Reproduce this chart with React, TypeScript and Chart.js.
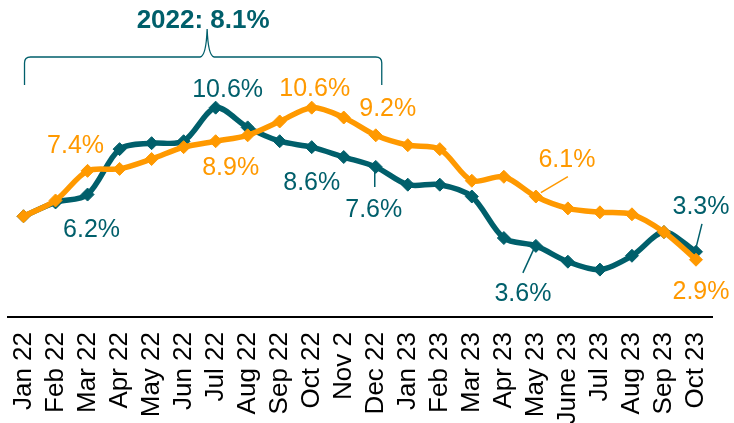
import React, { useEffect, useRef } from "react";
import { Chart, registerables } from "chart.js";

Chart.register(...registerables);

const categories = [
  "Jan 22", "Feb 22", "Mar 22", "Apr 22", "May 22", "Jun 22", "Jul 22", "Aug 22",
  "Sep 22", "Oct 22", "Nov 2", "Dec 22", "Jan 23", "Feb 23", "Mar 23", "Apr 23",
  "May 23", "June 23", "Jul 23", "Aug 23", "Sep 23", "Oct 23",
];

const tealValues = [5.1, 5.8, 6.2, 8.5, 8.8, 8.9, 10.6, 9.6, 8.9, 8.6, 8.1, 7.6, 6.7, 6.7, 6.1, 4.0, 3.6, 2.8, 2.4, 3.1, 4.3, 3.3];
const orangeValues = [5.1, 5.9, 7.4, 7.5, 8.0, 8.6, 8.9, 9.2, 9.9, 10.6, 10.1, 9.2, 8.7, 8.5, 6.9, 7.1, 6.1, 5.5, 5.3, 5.2, 4.3, 2.9];

const tealLabelIdx = [2, 6, 9, 11, 16, 21];
const orangeLabelIdx = [2, 6, 9, 11, 16, 21];

const bracketText = "2022: 8.1%";
const bracketStart = 0;
const bracketEnd = 11;

const TEAL = "#005f6b";
const ORANGE = "#ff9900";
const FONT = '"Liberation Sans", Arial, sans-serif';

// styling: label offsets (dx, dy to text centre) and optional leader lines
type LabelStyle = { dx: number; dy: number; leader?: [number, number, number, number] };
const tealLabelStyle: LabelStyle[] = [
  { dx: 4, dy: 33 },
  { dx: 12, dy: -20 },
  { dx: 0, dy: 34 },
  { dx: -2, dy: 41, leader: [-1, 3, -1, 20] },
  { dx: -13, dy: 46, leader: [-13, 27, -2, 3] },
  { dx: 5, dy: -47, leader: [6, -28, 0, -4] },
];
const orangeLabelStyle: LabelStyle[] = [
  { dx: -12, dy: -27 },
  { dx: 15, dy: 25 },
  { dx: 3, dy: -21 },
  { dx: 12, dy: -28 },
  { dx: 31, dy: -38, leader: [32, -20, 5, -4] },
  { dx: 5, dy: 30 },
];

const labelPlugin = {
  id: "customLabels",
  afterDatasetsDraw(chart: any) {
    const ctx = chart.ctx as CanvasRenderingContext2D;
    const xs = chart.scales.x;
    const ys = chart.scales.y;
    ctx.save();
    const size = 25;
    ctx.font = `${size}px ${FONT}`;
    ctx.textAlign = "center";
    ctx.textBaseline = "alphabetic";
    const drawSet = (vals: number[], idx: number[], styles: LabelStyle[], color: string) => {
      idx.forEach((i, k) => {
        const st = styles[k];
        const px = xs.getPixelForValue(i);
        const py = ys.getPixelForValue(vals[i]);
        ctx.fillStyle = color;
        ctx.fillText(vals[i].toFixed(1) + "%", px + st.dx, py + st.dy + size * 0.358);
        if (st.leader) {
          ctx.strokeStyle = color;
          ctx.lineWidth = 1.5;
          ctx.beginPath();
          ctx.moveTo(px + st.leader[0], py + st.leader[1]);
          ctx.lineTo(px + st.leader[2], py + st.leader[3]);
          ctx.stroke();
        }
      });
    };
    drawSet(tealValues, tealLabelIdx, tealLabelStyle, TEAL);
    drawSet(orangeValues, orangeLabelIdx, orangeLabelStyle, ORANGE);

    // bracket
    const xL = xs.getPixelForValue(bracketStart) + 1;
    const xR = xs.getPixelForValue(bracketEnd) + 6;
    const tip = (xL + xR) / 2 + 4;
    const yH = 57;
    const yB = 85;
    const yT = 29;
    ctx.strokeStyle = TEAL;
    ctx.lineWidth = 1.3;
    ctx.beginPath();
    ctx.moveTo(xL, yB);
    ctx.lineTo(xL, yH + 6);
    ctx.quadraticCurveTo(xL, yH, xL + 6, yH);
    ctx.lineTo(tip - 7, yH);
    ctx.quadraticCurveTo(tip - 1, yH - 1, tip, yT);
    ctx.quadraticCurveTo(tip + 1, yH - 1, tip + 7, yH);
    ctx.lineTo(xR - 6, yH);
    ctx.quadraticCurveTo(xR, yH, xR, yH + 6);
    ctx.lineTo(xR, yB);
    ctx.stroke();

    ctx.font = `bold 26px ${FONT}`;
    ctx.fillStyle = TEAL;
    ctx.fillText(bracketText, tip - 4, 28);
    ctx.restore();
  },
};

export default function App() {
  const ref = useRef<HTMLCanvasElement | null>(null);
  useEffect(() => {
    if (!ref.current) return;
    const chart = new Chart(ref.current, {
      type: "line",
      data: {
        labels: categories,
        datasets: [
          {
            data: orangeValues,
            borderColor: ORANGE,
            backgroundColor: ORANGE,
            borderWidth: 5.5,
            tension: 0.3,
            pointStyle: "rectRot",
            pointRadius: 6.5,
            pointBackgroundColor: ORANGE,
            pointBorderColor: ORANGE,
            pointBorderWidth: 1,
            order: 0,
          },
          {
            data: tealValues,
            borderColor: TEAL,
            backgroundColor: TEAL,
            borderWidth: 5.5,
            tension: 0.3,
            pointStyle: "rectRot",
            pointRadius: 6.5,
            pointBackgroundColor: TEAL,
            pointBorderColor: TEAL,
            pointBorderWidth: 1,
            order: 1,
          },
        ],
      },
      options: {
        responsive: false,
        animation: false,
        layout: { padding: { left: 4, right: 22, top: 80, bottom: 0 } },
        plugins: { legend: { display: false }, tooltip: { enabled: false } },
        scales: {
          x: {
            offset: true,
            grid: { display: false, drawTicks: false },
            border: { display: true, color: "#000", width: 2 },
            ticks: {
              autoSkip: false,
              minRotation: 90,
              maxRotation: 90,
              padding: 15,
              color: "#000",
              font: { family: FONT, size: 26 },
            },
            afterFit: (scale: any) => {
              scale.height = 106;
              scale.paddingLeft = 0;
              scale.paddingRight = 0;
            },
          },
          y: {
            display: false,
            min: 0,
            max: 12,
          },
        },
      },
      plugins: [labelPlugin],
    });
    return () => chart.destroy();
  }, []);
  return (
    <div style={{ position: "fixed", left: 0, top: 0, width: 734, height: 423, background: "#fff" }}>
      <canvas ref={ref} width={734} height={423} style={{ width: 734, height: 423 }} />
    </div>
  );
}
